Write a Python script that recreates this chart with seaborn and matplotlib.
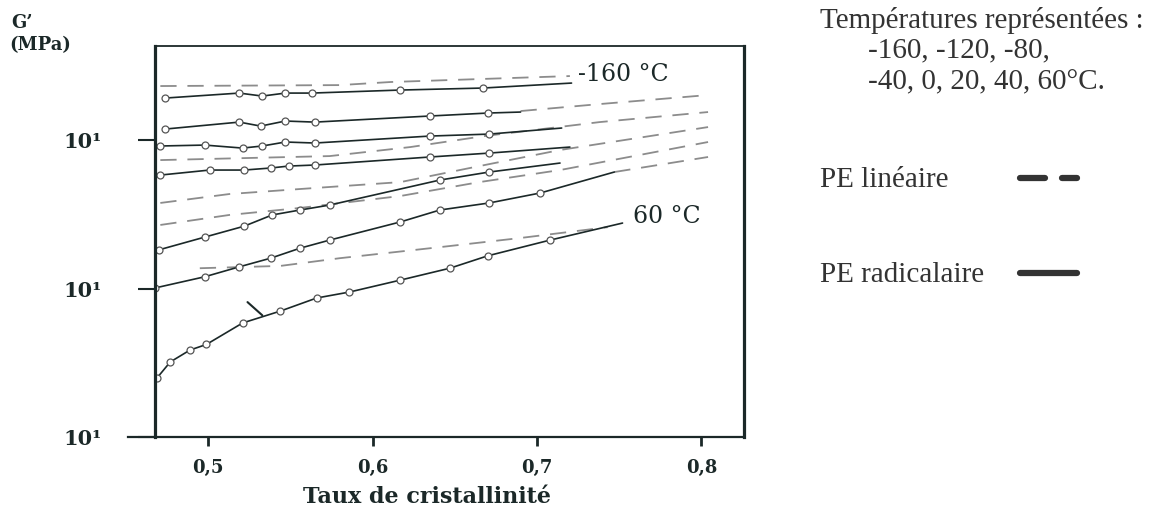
import matplotlib
matplotlib.use("Agg")
import matplotlib.pyplot as plt
import seaborn as sns

# Taux de cristallinite vs G' (MPa)
# PE radicalaire : solid lines with open circles
rad_x = [
    [0.474, 0.519, 0.533, 0.547, 0.563, 0.617, 0.667, 0.721],
    [0.474, 0.519, 0.532, 0.547, 0.565, 0.635, 0.670, 0.690],
    [0.471, 0.498, 0.521, 0.533, 0.547, 0.565, 0.635, 0.671, 0.715],
    [0.471, 0.501, 0.522, 0.538, 0.549, 0.565, 0.635, 0.671, 0.720],
    [0.470, 0.498, 0.522, 0.539, 0.556, 0.574, 0.641, 0.671, 0.714],
    [0.468, 0.498, 0.519, 0.538, 0.556, 0.574, 0.617, 0.641, 0.671, 0.702, 0.747],
    [0.469, 0.477, 0.489, 0.499, 0.521, 0.544, 0.566, 0.586, 0.617, 0.647, 0.670, 0.708, 0.752],
]
rad_g = [
    [1918, 2072, 1978, 2072, 2072, 2172, 2240, 2420],
    [1186, 1321, 1242, 1343, 1321, 1452, 1520, 1544],
    [912, 925, 883, 912, 970, 955, 1064, 1097, 1205],
    [581, 628, 628, 648, 668, 679, 769, 817, 897],
    [182, 222, 263, 313, 338, 365, 538, 609, 700],
    [101, 120, 140, 160, 187, 212, 281, 338, 377, 440, 609],
    [25, 32, 38.5, 42, 58.6, 70.5, 86.3, 94.7, 114, 137, 166, 212, 276],
]

# PE lineaire : grey dashed lines
lin_x = [
    [0.471, 0.580, 0.611, 0.720],
    [0.690, 0.738, 0.804],
    [0.471, 0.574, 0.623, 0.668, 0.738, 0.804],
    [0.471, 0.513, 0.556, 0.617, 0.665, 0.714, 0.804],
    [0.471, 0.513, 0.556, 0.617, 0.665, 0.714, 0.804],
    [0.495, 0.544, 0.580, 0.641, 0.690, 0.743],
    [0.747, 0.804],
]
lin_g = [
    [2311, 2345, 2460, 2698],
    [1568, 1747, 2010],
    [733, 780, 897, 1064, 1321, 1544],
    [377, 433, 468, 521, 668, 857, 1223],
    [268, 313, 349, 420, 521, 628, 970],
    [137, 142, 160, 190, 219, 259],
    [609, 769],
]

# short stroke on the 60 C curve
stroke_x = [0.524, 0.533]
stroke_g = [81, 66]

x_ticks = [0.5, 0.6, 0.7, 0.8]
x_labels = ["0,5", "0,6", "0,7", "0,8"]
y_ticks = [10, 100, 1000]
y_labels = ["10¹", "10¹", "10¹"]

INK = "#1b2828"
TXT = "#333333"

sns.set_theme(style="white")
plt.rcParams["font.family"] = ["DejaVu Serif", "DejaVu Sans"]

fig = plt.figure(figsize=(11.66, 5.12), dpi=100)
ax = fig.add_axes([0.133, 0.1465, 0.505, 0.7635])

for xs, gs in zip(lin_x, lin_g):
    sns.lineplot(x=xs, y=gs, ax=ax, sort=False, estimator=None, color="#8c8c8c",
                 linewidth=1.3, linestyle=(0, (9, 6)))

for xs, gs in zip(rad_x, rad_g):
    sns.lineplot(x=xs, y=gs, ax=ax, sort=False, estimator=None, color=INK,
                 linewidth=1.2, marker="o", markersize=5, markerfacecolor="white",
                 markeredgecolor="#555555", markeredgewidth=0.9,
                 markevery=list(range(len(xs) - 1)))

sns.lineplot(x=stroke_x, y=stroke_g, ax=ax, sort=False, estimator=None, color=INK, linewidth=1.5)

ax.set_yscale("log")
ax.set_xlim(0.4678, 0.8258)
ax.set_ylim(10, 4295)
ax.set_xticks(x_ticks)
ax.set_xticklabels(x_labels, fontsize=13, fontweight="bold", color=INK)
ax.set_yticks(y_ticks)
ax.set_yticklabels(y_labels, fontsize=15, fontweight="bold", color=INK)
ax.yaxis.set_minor_locator(matplotlib.ticker.NullLocator())
ax.tick_params(axis="x", direction="out", length=6.5, width=2, color=INK, pad=9, bottom=True)
ax.tick_params(axis="y", direction="out", length=12, width=1.5, color=INK, pad=26, left=True)
ax.set_xlabel("")
ax.set_ylabel("")

ax.spines["left"].set_linewidth(2.3)
ax.spines["right"].set_linewidth(2.3)
ax.spines["bottom"].set_linewidth(1.6)
ax.spines["top"].set_linewidth(1.3)
for s in ax.spines.values():
    s.set_color(INK)
ax.spines["bottom"].set_bounds(0.4514, 0.8258)

fig.text(0.496, 0.855, "-160 °C", fontsize=17, color=INK, va="center")
fig.text(0.543, 0.578, "60 °C", fontsize=17, color=INK, va="center")

fig.text(0.010, 0.955, "G’", fontsize=13, fontweight="bold", color=INK, va="center")
fig.text(0.008, 0.912, "(MPa)", fontsize=13, fontweight="bold", color=INK, va="center")
fig.text(0.366, 0.03, "Taux de cristallinité", fontsize=16, fontweight="bold", color=INK,
         ha="center", va="center")

fig.text(0.703, 0.945, "Températures représentées :", fontsize=21, color=TXT,
         va="baseline", family="Liberation Serif")
fig.text(0.744, 0.888, "-160, -120, -80,", fontsize=21, color=TXT, va="baseline",
         family="Liberation Serif")
fig.text(0.744, 0.826, "-40, 0, 20, 40, 60°C.", fontsize=21, color=TXT, va="baseline",
         family="Liberation Serif")
fig.text(0.703, 0.635, "PE linéaire", fontsize=21, color=TXT, va="baseline",
         family="Liberation Serif")
fig.text(0.703, 0.450, "PE radicalaire", fontsize=21, color=TXT, va="baseline",
         family="Liberation Serif")

# legend samples
fig.add_artist(plt.Line2D([0.8748, 0.8962], [0.652, 0.652], color=TXT, linewidth=4.5))
fig.add_artist(plt.Line2D([0.911, 0.9237], [0.652, 0.652], color=TXT, linewidth=4.5))
fig.add_artist(plt.Line2D([0.8748, 0.9237], [0.467, 0.467], color=TXT, linewidth=4.5))

fig.savefig("out.png", dpi=100)
